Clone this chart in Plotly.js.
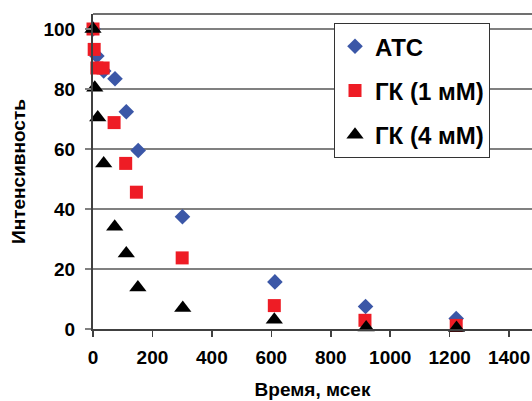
<!DOCTYPE html>
<html>
<head>
<meta charset="utf-8">
<script src="https://cdn.plot.ly/plotly-3.0.1.min.js"></script>
<style>html,body{margin:0;padding:0;background:#fff;}#chart{width:532px;height:401px;}</style>
</head>
<body>
<div id="chart"></div>
<script>
// Data
const seriesNames = ["АТС", "ГК (1 мМ)", "ГК (4 мМ)"];

const atcTime = [0, 13, 36, 74, 112, 152, 301, 612, 917, 1222];
const atcIntensity = [100, 91, 86, 83.4, 72.4, 59.5, 37.4, 15.7, 7.5, 3.5];

const gk1Time = [0, 4, 13, 34, 71, 110, 146, 300, 610, 915, 1222];
const gk1Intensity = [100, 93.2, 87, 87, 68.8, 55.2, 45.6, 23.7, 7.8, 2.9, 1.2];

const gk4Time = [0, 6, 16, 36, 73, 112, 151, 302, 610, 919, 1223];
const gk4Intensity = [100, 80.4, 70.5, 55.2, 34.1, 25.2, 13.8, 7.0, 3.1, 0.5, 0.3];

const xTickVals = [0, 200, 400, 600, 800, 1000, 1200, 1400];
const yTickVals = [0, 20, 40, 60, 80, 100];

const xTitle = "Время, мсек";
const yTitle = "Интенсивность";

const FONT = "'Liberation Sans', Arial, sans-serif";

const traces = [
  {x: atcTime, y: atcIntensity, name: seriesNames[0], legendgroup: "a",
   marker: {symbol: "diamond", size: 12, color: "#3b57a7"}},
  {x: gk1Time, y: gk1Intensity, name: seriesNames[1], legendgroup: "b",
   marker: {symbol: "square", size: 13, color: "#ee1c25"}},
  {x: gk4Time, y: gk4Intensity, name: seriesNames[2], legendgroup: "c",
   marker: {symbol: "triangle-up", size: 15, color: "#000000"}}
].map(t => Object.assign({type: "scatter", mode: "markers", cliponaxis: false}, t));

const layout = {
  width: 532, height: 401,
  margin: {l: 93, r: 0, t: 14, b: 72},
  paper_bgcolor: "#fff", plot_bgcolor: "#fff",
  font: {family: FONT, color: "#000", size: 19, weight: "bold"},
  showlegend: true,
  legend: {
    x: 0.549, y: 0.971, xanchor: "left", yanchor: "top",
    bgcolor: "#fff", bordercolor: "#333", borderwidth: 1,
    font: {family: FONT, size: 24, weight: "bold", color: "#000"},
    tracegroupgap: 10, traceorder: "grouped", itemwidth: 30,
    entrywidth: 160, entrywidthmode: "pixels"
  },
  xaxis: {
    range: [0, 1477], tickvals: xTickVals, ticktext: xTickVals.map(String),
    showgrid: false, zeroline: false,
    showline: true, linecolor: "#404040", linewidth: 2,
    ticks: "outside", ticklen: 6, tickwidth: 1.5, tickcolor: "#404040",
    ticklabelstandoff: 4,
    tickfont: {family: FONT, size: 19, weight: "bold"},
    title: {text: xTitle, font: {family: FONT, size: 19, weight: "bold"}, standoff: 16},
    automargin: false
  },
  yaxis: {
    range: [0, 105], tickvals: yTickVals, ticktext: yTickVals.map(String),
    showgrid: true, gridcolor: "#808080", gridwidth: 1.5, zeroline: false,
    showline: true, linecolor: "#404040", linewidth: 2,
    ticks: "outside", ticklen: 6, tickwidth: 1.5, tickcolor: "#808080",
    ticklabelstandoff: 6,
    tickfont: {family: FONT, size: 19, weight: "bold"},
    title: {text: yTitle, font: {family: FONT, size: 19, weight: "bold"}, standoff: 13},
    automargin: false
  },
  shapes: [{type: "line", xref: "paper", yref: "paper", x0: 0, x1: 1, y0: 1, y1: 1,
            line: {color: "#404040", width: 1.5}}]
};

Plotly.newPlot("chart", traces, layout, {staticPlot: true, displayModeBar: false});
</script>
</body>
</html>
